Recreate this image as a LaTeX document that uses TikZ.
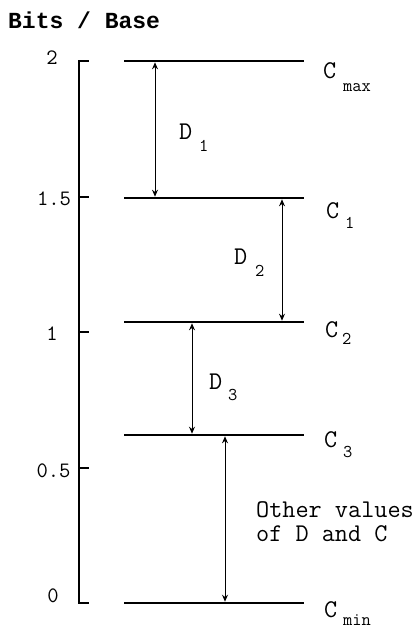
\documentclass[tikz,border=0pt]{standalone}
\usepackage{fontspec}
\setmonofont{Latin Modern Mono}
\newfontfamily\titlefont{Liberation Mono}
\usetikzlibrary{arrows.meta}
\begin{document}
\begin{tikzpicture}[x=1pt,y=-1pt,
  lvl/.style={line width=2.8pt},
  axisline/.style={line width=1.8pt},
  gap/.style={line width=0.9pt,{Stealth[length=7pt,width=6pt]}-{Stealth[length=7pt,width=6pt]},shorten >=1.3pt,shorten <=1.3pt},
  lbl/.style={font=\ttfamily\fontsize{25.5}{25.5}\selectfont, inner sep=0pt, anchor=base west},
  sublbl/.style={font=\ttfamily\fontsize{18}{18}\selectfont, inner sep=0pt, anchor=base west},
  ticklbl/.style={font=\ttfamily\fontsize{22}{22}\selectfont, inner sep=0pt, anchor=base},
  ttl/.style={font=\titlefont\bfseries\fontsize{23}{23}\selectfont, inner sep=0pt, anchor=base west},
]
\useasboundingbox (0,0) rectangle (420,629);
% title
\node[ttl] (title) at (8,28) {Bits / Base};
% axis
\coordinate (atop) at (79,61);
\coordinate (abot) at (79,603);
\draw[axisline] (atop) -- (abot);
\foreach \y/\n in {61/t2,197/t15,332/t1,468/t05,603/t0}{
  \coordinate (\n a) at (78.1,\y);
  \coordinate (\n b) at (89,\y);
  \draw[axisline] (\n a) -- (\n b);
}
\node[ticklbl] (l2) at (52,64) {2};
\node[ticklbl] (l15) at (54,205) {1.5};
\node[ticklbl] (l1) at (52,340) {1};
\node[ticklbl] (l05) at (53.5,477) {0.5};
\node[ticklbl] (l0) at (53,602) {0};
% levels
\foreach \y/\n in {61/cmax,198/cone,322/ctwo,435/cthree,603/cmin}{
  \coordinate (\n L) at (124,\y);
  \coordinate (\n R) at (304,\y);
  \draw[lvl] (\n L) -- (\n R);
}
% arrows
\coordinate (d1t) at (155,61);  \coordinate (d1b) at (155,198);
\coordinate (d2t) at (282,198); \coordinate (d2b) at (282,322);
\coordinate (d3t) at (192,322); \coordinate (d3b) at (192,435);
\coordinate (d4t) at (225,435); \coordinate (d4b) at (225,603);
\draw[gap] (d1t) -- (d1b);
\draw[gap] (d2t) -- (d2b);
\draw[gap] (d3t) -- (d3b);
\draw[gap] (d4t) -- (d4b);
% C labels
\node[lbl] (cmaxC) at (323,78) {C};
\node[sublbl] (cmaxS) at (343,91) {max};
\node[lbl] (c1C) at (326,218) {C};
\node[sublbl] (c1S) at (345,228) {1};
\node[lbl] (c2C) at (325,337) {C};
\node[sublbl] (c2S) at (342,344) {2};
\node[lbl] (c3C) at (324,447) {C};
\node[sublbl] (c3S) at (343,457) {3};
\node[lbl] (cminC) at (324,617) {C};
\node[sublbl] (cminS) at (343,625) {min};
% D labels
\node[lbl] (d1D) at (179,139) {D};
\node[sublbl] (d1S) at (199,151) {1};
\node[lbl] (d2D) at (234,264) {D};
\node[sublbl] (d2S) at (255,276) {2};
\node[lbl] (d3D) at (209,389) {D};
\node[sublbl] (d3S) at (228,400) {3};
% other
\node[lbl] (oth1) at (256,517) {Other values};
\node[lbl] (oth2) at (256,541) {of D and C};
\end{tikzpicture}
\end{document}
